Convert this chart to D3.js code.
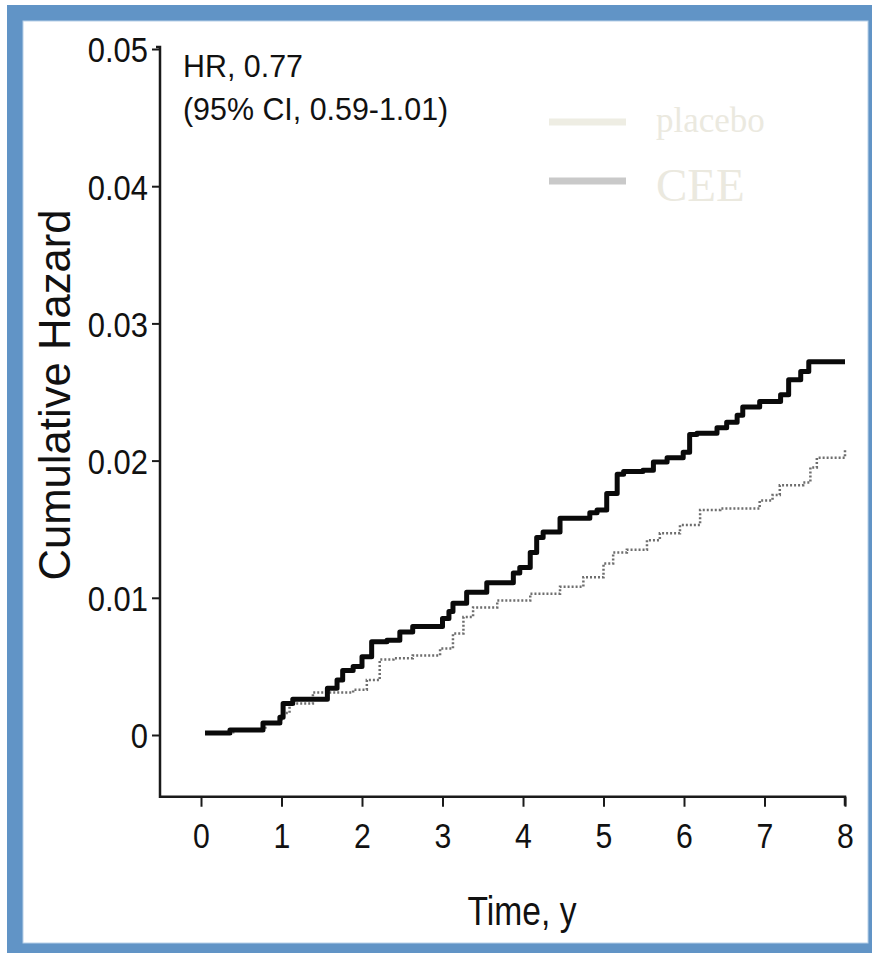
<!DOCTYPE html>
<html>
<head>
<meta charset="utf-8">
<script src="https://cdn.jsdelivr.net/npm/d3@7"></script>
<style>
  html, body { margin: 0; padding: 0; background: #ffffff; }
  svg { display: block; }
  text { fill: #111; }
</style>
</head>
<body>
<svg id="chart" width="872" height="953"></svg>
<script>
// ---- data ----
const xTicks = [0, 1, 2, 3, 4, 5, 6, 7, 8];
const xTickLabels = ["0", "1", "2", "3", "4", "5", "6", "7", "8"];
const yTicks = [0, 0.01, 0.02, 0.03, 0.04, 0.05];
const yTickLabels = ["0", "0.01", "0.02", "0.03", "0.04", "0.05"];

// placebo (solid black step line)
const placeboTime = [0.05, 0.36, 0.77, 0.98, 1.02, 1.14, 1.57, 1.69, 1.76, 1.89, 2.0, 2.12, 2.31, 2.47, 2.63, 3.0, 3.08, 3.13, 3.3, 3.55, 3.88, 3.96, 4.09, 4.17, 4.25, 4.46, 4.83, 4.92, 5.04, 5.17, 5.25, 5.49, 5.62, 5.79, 5.99, 6.07, 6.16, 6.41, 6.53, 6.66, 6.73, 6.94, 7.2, 7.3, 7.45, 7.55, 8.0];
const placeboHaz  = [0.00015, 0.00036, 0.00087, 0.0013, 0.0023, 0.0026, 0.0034, 0.0040, 0.0047, 0.0050, 0.0057, 0.0068, 0.0069, 0.0075, 0.0079, 0.0085, 0.0090, 0.0096, 0.0104, 0.0111, 0.0118, 0.0122, 0.0133, 0.0144, 0.0148, 0.0158, 0.0162, 0.0164, 0.0176, 0.0190, 0.0192, 0.0193, 0.0199, 0.0202, 0.0206, 0.0219, 0.0220, 0.0224, 0.0228, 0.0233, 0.0239, 0.0243, 0.0248, 0.0259, 0.0265, 0.0272, 0.0272];

// CEE (dotted grey step line)
const ceeTime = [0.05, 0.4, 0.8, 1.0, 1.1, 1.39, 1.89, 2.06, 2.22, 2.39, 2.63, 2.97, 3.13, 3.26, 3.38, 3.68, 4.09, 4.46, 4.75, 5.0, 5.12, 5.29, 5.54, 5.7, 5.95, 6.2, 6.45, 6.94, 7.1, 7.19, 7.48, 7.57, 7.65, 7.96, 8.0];
const ceeHaz  = [0.0002, 0.0004, 0.0009, 0.0016, 0.0023, 0.0031, 0.0033, 0.0040, 0.0055, 0.0056, 0.0058, 0.0063, 0.0074, 0.0086, 0.0093, 0.0098, 0.0103, 0.0108, 0.0115, 0.0125, 0.0133, 0.0135, 0.0142, 0.0147, 0.0153, 0.0164, 0.0165, 0.0171, 0.0175, 0.0182, 0.0184, 0.0195, 0.0202, 0.0202, 0.0209];

const legendLabels = ["placebo", "CEE"];
const annotationLines = ["HR, 0.77", "(95% CI, 0.59-1.01)"];
const xTitle = "Time, y";
const yTitle = "Cumulative Hazard";

// ---- layout ----
const sans = "'Liberation Sans', Arial, Helvetica, sans-serif";
const serif = "'Liberation Serif', 'Times New Roman', serif";
const svg = d3.select("#chart");
const yMin = -0.0045;
const x = d3.scaleLinear().domain([0, 8]).range([201, 845]);
const y = d3.scaleLinear().domain([0, 0.05]).range([735, 49]);

// frame
svg.append("rect").attr("x", 7).attr("y", 5).attr("width", 880).attr("height", 960).attr("fill", "#6194c6");
svg.append("rect").attr("x", 23).attr("y", 21).attr("width", 845).attr("height", 922)
  .attr("fill", "#ffffff").attr("stroke", "#b7d0e8").attr("stroke-width", 1);

const axisColor = "#1a1a1a";
const tickFont = 36;

// axis domain lines
const x0 = x.range()[0] - 41, yBase = y(yMin);
svg.append("path")
  .attr("d", `M${x0 - 4},${y(0.05) - 2}L${x0},${y(0.05) - 2}L${x0},${yBase}L${x(8)},${yBase}L${x(8)},${yBase + 9}`)
  .attr("fill", "none").attr("stroke", axisColor).attr("stroke-width", 2.5);

// y axis
const gy = svg.append("g").attr("transform", `translate(${x0},0)`)
  .call(d3.axisLeft(y).tickValues(yTicks).tickSize(8).tickPadding(6)
    .tickFormat((d, i) => yTickLabels[i]));
gy.select(".domain").remove();
gy.selectAll(".tick line").attr("stroke", axisColor).attr("stroke-width", 2);
gy.selectAll(".tick text").attr("font-size", tickFont).style("fill", "#111")
  .style("font-family", sans)
  .attr("transform", "scale(0.86,1)").attr("dy", "0.36em");

// x axis
const gx = svg.append("g").attr("transform", `translate(0,${yBase})`)
  .call(d3.axisBottom(x).tickValues(xTicks).tickSize(10).tickPadding(16)
    .tickFormat((d, i) => xTickLabels[i]));
gx.select(".domain").remove();
gx.selectAll(".tick line").attr("stroke", axisColor).attr("stroke-width", 2);
gx.selectAll(".tick text").attr("font-size", tickFont).style("fill", "#111")
  .style("font-family", sans)
  .attr("transform", "scale(0.84,1)");

// axis titles
svg.append("text").attr("transform", `translate(522,925) scale(0.84,1)`)
  .attr("text-anchor", "middle").attr("font-size", 40).style("font-family", sans).text(xTitle);
svg.append("text").attr("transform", `translate(70,395) rotate(-90) scale(0.97,1)`)
  .attr("text-anchor", "middle").attr("font-size", 45).style("font-family", sans).text(yTitle);

// annotation
svg.append("text").attr("transform", `translate(183,77) scale(0.95,1)`)
  .attr("font-size", 32).style("font-family", sans).text(annotationLines[0]);
svg.append("text").attr("transform", `translate(183,120) scale(0.95,1)`)
  .attr("font-size", 32).style("font-family", sans).text(annotationLines[1]);

// lines
const placeboData = placeboTime.map((t, i) => ({ t, v: placeboHaz[i] }));
const ceeData = ceeTime.map((t, i) => ({ t, v: ceeHaz[i] }));
const line = d3.line().x(d => x(d.t)).y(d => y(d.v)).curve(d3.curveStepAfter);

svg.append("path").datum(ceeData).attr("d", line)
  .attr("fill", "none").attr("stroke", "#6e6e6e").attr("stroke-width", 2.5)
  .attr("stroke-dasharray", "2,2");
svg.append("path").datum(placeboData).attr("d", line)
  .attr("fill", "none").attr("stroke", "#0a0a0a").attr("stroke-width", 5)
  .attr("stroke-linejoin", "round");

// legend
const legendColors = ["#eeede3", "#c9c9c9"];
const legendTextColors = ["#ebe9df", "#ebe9df"];
const legendY = [122, 181];
const legendFont = [35, 47];
const legendBase = [132, 201];
legendLabels.forEach((lab, i) => {
  svg.append("line").attr("x1", 549).attr("x2", 626).attr("y1", legendY[i]).attr("y2", legendY[i])
    .attr("stroke", legendColors[i]).attr("stroke-width", 7);
  svg.append("text").attr("x", 656).attr("y", legendBase[i])
    .style("font-family", serif)
    .attr("font-size", legendFont[i]).style("fill", legendTextColors[i]).text(lab);
});
</script>
</body>
</html>
